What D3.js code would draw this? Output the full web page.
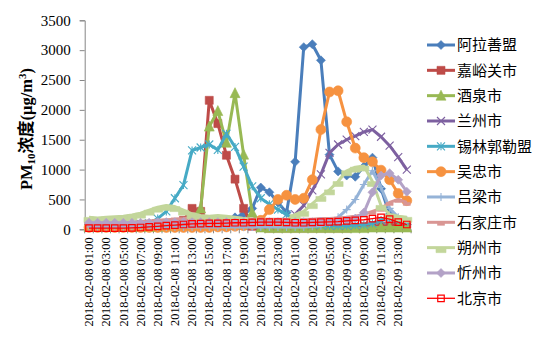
<!DOCTYPE html>
<html>
<head>
<meta charset="utf-8">
<script src="https://cdn.jsdelivr.net/npm/d3@7/dist/d3.min.js"></script>
<style>
  html, body { margin: 0; padding: 0; background: #fff; }
  svg { display: block; }
</style>
</head>
<body>
<svg id="chart" width="547" height="341"></svg>
<script>
// Hourly timestamps, 2018-02-08 01:00 through 2018-02-09 14:00
const times = [
  "2018-02-08 01:00","2018-02-08 02:00","2018-02-08 03:00","2018-02-08 04:00","2018-02-08 05:00",
  "2018-02-08 06:00","2018-02-08 07:00","2018-02-08 08:00","2018-02-08 09:00","2018-02-08 10:00",
  "2018-02-08 11:00","2018-02-08 12:00","2018-02-08 13:00","2018-02-08 14:00","2018-02-08 15:00",
  "2018-02-08 16:00","2018-02-08 17:00","2018-02-08 18:00","2018-02-08 19:00","2018-02-08 20:00",
  "2018-02-08 21:00","2018-02-08 22:00","2018-02-08 23:00","2018-02-09 00:00","2018-02-09 01:00",
  "2018-02-09 02:00","2018-02-09 03:00","2018-02-09 04:00","2018-02-09 05:00","2018-02-09 06:00",
  "2018-02-09 07:00","2018-02-09 08:00","2018-02-09 09:00","2018-02-09 10:00","2018-02-09 11:00",
  "2018-02-09 12:00","2018-02-09 13:00","2018-02-09 14:00"
];

const cityNames = ["阿拉善盟","嘉峪关市","酒泉市","兰州市","锡林郭勒盟","吴忠市","吕梁市","石家庄市","朔州市","忻州市","北京市"];

// PM10 concentrations (μg/m3) per city, one value per hour
const alashan   = [80,70,70,60,60,60,70,80,90,100,110,120,130,130,140,150,160,200,250,350,700,620,450,280,1130,3050,3100,2830,1250,970,900,880,1050,1200,680,250,110,80];
const jiayuguan = [60,60,60,60,60,60,70,80,90,100,120,150,350,300,2160,1770,1240,840,350,50,30,20,20,20,20,20,20,20,20,20,20,30,30,40,50,60,70,80];
const jiuquan   = [40,40,40,40,40,40,40,40,40,50,50,60,100,350,1720,1980,1450,2280,1250,280,30,20,20,20,20,20,20,20,20,20,20,20,20,30,30,30,30,30];
const lanzhou   = [60,60,60,60,60,60,60,60,60,60,70,70,80,80,80,80,80,80,80,80,80,80,90,100,250,400,650,920,1280,1420,1500,1560,1630,1670,1550,1400,1210,1000];
const xilinguole= [80,80,80,80,80,80,90,100,180,300,520,740,1320,1370,1420,1330,1600,1380,1050,720,520,420,330,250,150,100,80,70,60,60,60,70,80,100,150,180,150,120];
const wuzhong   = [30,30,30,30,30,30,30,30,30,30,30,30,30,30,30,40,40,50,60,80,150,330,500,570,500,520,830,1670,2300,2320,1800,1360,1200,1130,990,830,600,480];
const lvliang   = [40,40,40,40,40,40,40,40,40,40,40,40,40,40,40,40,40,40,40,40,40,40,40,40,40,40,50,60,100,200,330,500,750,980,700,350,200,150];
const shijiazhuang = [120,120,120,120,120,120,130,140,150,160,170,180,200,200,210,210,200,190,180,170,170,170,170,170,170,170,170,180,180,190,200,220,250,300,350,450,500,450];
const shuozhou  = [200,190,200,210,220,240,270,320,370,400,380,320,260,230,220,230,220,200,180,170,160,150,140,150,250,300,430,550,660,800,980,1040,1060,800,400,250,220,200];
const xinzhou   = [110,110,110,110,110,110,110,110,120,120,120,120,120,120,120,120,120,120,120,120,120,120,120,120,120,120,120,130,130,140,150,180,280,620,900,940,830,630];
const beijing   = [20,20,20,20,20,25,30,40,50,60,70,80,90,95,100,100,105,110,110,115,120,120,120,115,110,110,115,120,125,130,140,150,160,180,200,170,120,80];

const yTicks = [0,500,1000,1500,2000,2500,3000,3500];

const seriesValues = [alashan, jiayuguan, jiuquan, lanzhou, xilinguole, wuzhong, lvliang, shijiazhuang, shuozhou, xinzhou, beijing];
const colors  = ["#4A7EBB","#BE4B48","#98B954","#7D60A0","#46AAC5","#F69240","#95B3D7","#D99694","#C3D69B","#B3A2C7","#FF0000"];
const markers = ["diamond","square","triangle","x","asterisk","circle","plus","dash","bar","diamond","hollow"];

const svg = d3.select("#chart");
const plotLeft = 84.7, plotRight = 411.1, plotTop = 20.3, plotBottom = 229.3;

const x = d3.scaleBand().domain(times).range([plotLeft, plotRight]).paddingInner(0).paddingOuter(0);
const y = d3.scaleLinear().domain([0, 3500]).range([plotBottom, plotTop]);
const cx = t => x(t) + x.bandwidth() / 2;

const axisColor = "#868686";

// Marker shapes, centred at the origin
function markerPath(type, s) {
  const h = s / 2;
  switch (type) {
    case "diamond": return `M0,${-h-0.5}L${h+0.5},0L0,${h+0.5}L${-h-0.5},0Z`;
    case "square": case "hollow": return `M${-h},${-h}H${h}V${h}H${-h}Z`;
    case "triangle": return `M0,${-h-1}L${h+0.5},${h}L${-h-0.5},${h}Z`;
    case "circle": return d3.symbol(d3.symbolCircle, Math.PI * h * h)();
    case "x": return `M${-h},${-h}L${h},${h}M${h},${-h}L${-h},${h}`;
    case "asterisk": return `M${-h},${-h}L${h},${h}M${h},${-h}L${-h},${h}M0,${-h}V${h}`;
    case "plus": return `M0,${-h}V${h}M${-h},0H${h}`;
    case "dash": return `M${-3.5},0H3.5V3H-3.5Z`;
    case "bar": return `M${-5},0H5V5H-5Z`;
  }
}
const markerSize = { diamond: 8, square: 8, triangle: 9, circle: 10, x: 8, asterisk: 8, plus: 8, dash: 7, bar: 9, hollow: 6.5 };
const isStroke = t => t === "x" || t === "asterisk" || t === "plus";

function drawMarker(g, type, color, px, py) {
  const p = g.append("path")
    .attr("transform", `translate(${px},${py})`)
    .attr("d", markerPath(type, markerSize[type]));
  if (type === "hollow") {
    p.attr("fill", "none").attr("stroke", color).attr("stroke-width", 1.2);
  } else if (isStroke(type)) {
    p.attr("fill", "none").attr("stroke", color).attr("stroke-width", 1.1);
  } else {
    p.attr("fill", color).attr("stroke", color).attr("stroke-width", 0.6);
  }
}

// Axes
const yAxis = d3.axisLeft(y).tickValues(yTicks).tickSize(5).tickPadding(9).tickFormat(d3.format("d"));
const gy = svg.append("g").attr("transform", `translate(${plotLeft},0)`).call(yAxis);
gy.select(".domain").attr("stroke", axisColor);
gy.selectAll(".tick line").attr("stroke", axisColor);
gy.selectAll(".tick text")
  .attr("font-family", "'Liberation Serif', 'Times New Roman', serif")
  .attr("font-size", 15).attr("fill", "#000");

// X axis line and category boundary ticks
const gx = svg.append("g");
gx.append("line").attr("x1", plotLeft).attr("x2", plotRight).attr("y1", plotBottom).attr("y2", plotBottom)
  .attr("stroke", axisColor).attr("stroke-width", 1);
gx.selectAll("line.tk").data(times.concat(["end"])).join("line").attr("class", "tk")
  .attr("x1", (d, i) => plotLeft + i * x.bandwidth())
  .attr("x2", (d, i) => plotLeft + i * x.bandwidth())
  .attr("y1", plotBottom).attr("y2", plotBottom + 4)
  .attr("stroke", axisColor).attr("stroke-width", 1);
gx.selectAll("text").data(times.filter((d, i) => i % 2 === 0)).join("text")
  .attr("transform", d => `translate(${cx(d) + 4.2},${plotBottom + 8}) rotate(-90)`)
  .attr("text-anchor", "end")
  .attr("font-family", "'Liberation Serif', 'Times New Roman', serif")
  .attr("font-size", 12.4).attr("fill", "#000")
  .text(d => d);

// Y axis title: PM10浓度(μg/m3)
const title = svg.append("text")
  .attr("transform", "translate(32,129) rotate(-90)")
  .attr("text-anchor", "middle")
  .attr("font-family", "'Liberation Serif', 'Times New Roman', 'Noto Sans CJK SC', serif")
  .attr("font-weight", "bold").attr("font-size", 16.5).attr("fill", "#000");
title.append("tspan").text("PM");
title.append("tspan").attr("font-size", 11).attr("dy", 3).text("10");
title.append("tspan").attr("dy", -3).attr("font-family", "'Noto Sans CJK SC', sans-serif").text("浓度");
title.append("tspan").text("(μg/m");
title.append("tspan").attr("font-size", 11).attr("dy", -6).text("3");
title.append("tspan").attr("dy", 6).text(")");

// Series lines with markers
const line = d3.line().x((d, i) => cx(times[i])).y(d => y(d));
const plot = svg.append("g");
seriesValues.forEach((vals, s) => {
  const g = plot.append("g");
  g.append("path").datum(vals).attr("d", line)
    .attr("fill", "none").attr("stroke", colors[s])
    .attr("stroke-width", s === 10 ? 1.3 : 3)
    .attr("stroke-linejoin", "round");
  vals.forEach((v, i) => drawMarker(g, markers[s], colors[s], cx(times[i]), y(v)));
});

// Legend
const legend = svg.append("g");
cityNames.forEach((name, k) => {
  const ly = 45 + k * 25.33;
  const g = legend.append("g");
  g.append("line").attr("x1", 427).attr("x2", 455).attr("y1", ly).attr("y2", ly)
    .attr("stroke", colors[k]).attr("stroke-width", k === 10 ? 1.3 : 3);
  drawMarker(g, markers[k], colors[k], 441, ly);
  g.append("text").attr("x", 457).attr("y", ly).attr("dy", "0.36em")
    .attr("font-family", "'Noto Sans CJK SC', sans-serif")
    .attr("font-size", 15).attr("fill", "#000")
    .text(name);
});
</script>
</body>
</html>
